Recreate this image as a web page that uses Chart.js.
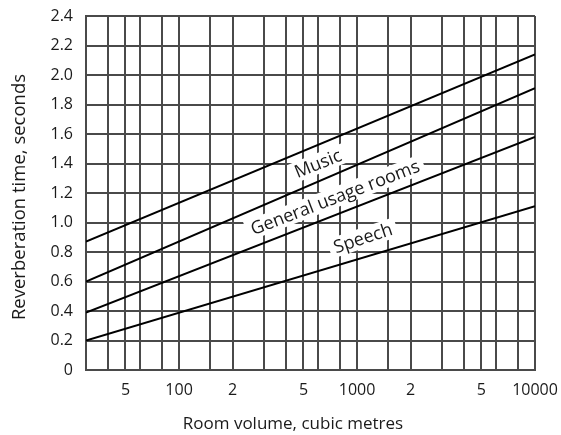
<!DOCTYPE html>
<html>
<head>
<meta charset="utf-8">
<script src="https://cdn.jsdelivr.net/npm/chart.js@4.4.1/dist/chart.umd.min.js"></script>
<style>
  html, body { margin: 0; padding: 0; background: #fff; }
  #wrap { width: 561px; height: 435px; }
</style>
</head>
<body>
<div id="wrap"><canvas id="myChart"></canvas></div>
<script>
// room volume, m3 (log axis)
const volumes = [30, 10000];
const line1 = [0.87, 2.14];
const line2 = [0.60, 1.91];
const line3 = [0.39, 1.58];
const line4 = [0.20, 1.11];

const gridVolumes = [30, 40, 50, 60, 80, 100, 150, 200, 300, 400, 500, 600, 800,
  1000, 1500, 2000, 3000, 4000, 5000, 6000, 8000, 10000];
const labelledVolumes = [50, 100, 200, 500, 1000, 2000, 5000, 10000];
const labelledText = ['5', '100', '2', '5', '1000', '2', '5', '10000'];

const curveNames = ['Music', 'General usage rooms', 'Speech'];
const curveNameX = [603, 752, 1079];
const curveNameY = [1.40, 1.17, 0.895];

const ink = '#1a1a1a';
const gridCol = '#4a4a4a';
const font = '"Open Sans", sans-serif';

function pts(ys) {
  return volumes.map((v, i) => ({ x: v, y: ys[i] }));
}

const curveLabels = {
  id: 'curveLabels',
  beforeDatasetsDraw(chart) {
    const ctx = chart.ctx;
    const sx = chart.scales.x, sy = chart.scales.y;
    const angles = [-22, -21, -18.5];
    ctx.save();
    ctx.font = '18px ' + font;
    ctx.textAlign = 'center';
    ctx.textBaseline = 'middle';
    curveNames.forEach((name, i) => {
      const px = sx.getPixelForValue(curveNameX[i]);
      const py = sy.getPixelForValue(curveNameY[i]);
      const w = ctx.measureText(name).width;
      ctx.save();
      ctx.translate(px, py);
      ctx.rotate(angles[i] * Math.PI / 180);
      ctx.fillStyle = '#fff';
      ctx.fillRect(-w / 2 - 5, -10, w + 10, 20);
      ctx.fillStyle = ink;
      ctx.fillText(name, 0, 1);
      ctx.restore();
    });
    ctx.restore();
  }
};

// axis titles, placed by hand (the original is not centred on the plot)
const axisTitles = {
  id: 'axisTitles',
  afterDraw(chart) {
    const ctx = chart.ctx;
    const a = chart.chartArea;
    ctx.save();
    ctx.fillStyle = ink;
    ctx.textAlign = 'center';
    ctx.textBaseline = 'middle';
    ctx.font = '17px ' + font;
    ctx.fillText('Room volume, cubic metres', a.left + 207, a.bottom + 54);
    ctx.font = '18.5px ' + font;
    ctx.translate(20, a.top + 181);
    ctx.rotate(-Math.PI / 2);
    ctx.fillText('Reverberation time, seconds', 0, 0);
    ctx.restore();
  }
};

const lineStyle = { borderColor: '#000', borderWidth: 2, pointRadius: 0, fill: false, tension: 0 };

const config = {
  type: 'line',
  data: {
    datasets: [
      { label: 'a', data: pts(line1), ...lineStyle },
      { label: 'b', data: pts(line2), ...lineStyle },
      { label: 'c', data: pts(line3), ...lineStyle },
      { label: 'd', data: pts(line4), ...lineStyle }
    ]
  },
  options: {
    responsive: true,
    maintainAspectRatio: false,
    animation: false,
    layout: { padding: { top: 16, right: 26, left: 0, bottom: 0 } },
    plugins: { legend: { display: false }, tooltip: { enabled: false } },
    scales: {
      x: {
        type: 'logarithmic',
        min: 30,
        max: 10000,
        afterBuildTicks(scale) {
          scale.ticks = gridVolumes.map(v => ({ value: v }));
        },
        afterFit(scale) {
          scale.height = 65;
          scale.paddingLeft = 0;
          scale.paddingRight = 0;
        },
        grid: { color: gridCol, lineWidth: 2, drawTicks: false },
        border: { color: gridCol, width: 2 },
        ticks: {
          autoSkip: false,
          maxRotation: 0,
          padding: 11,
          color: ink,
          font: { family: font, size: 16 },
          callback(value) {
            const k = labelledVolumes.indexOf(value);
            return k >= 0 ? labelledText[k] : '';
          }
        }
      },
      y: {
        min: 0,
        max: 2.4,
        afterFit(scale) {
          scale.width = 86;
          scale.paddingTop = 0;
          scale.paddingBottom = 0;
        },
        grid: { color: gridCol, lineWidth: 2, drawTicks: false },
        border: { color: gridCol, width: 2 },
        ticks: {
          stepSize: 0.2,
          padding: 13,
          color: ink,
          font: { family: font, size: 16 },
          callback(value) {
            return value === 0 ? '0' : value.toFixed(1);
          }
        }
      }
    }
  },
  plugins: [curveLabels, axisTitles]
};

const myChart = new Chart(document.getElementById('myChart'), config);
</script>
</body>
</html>
